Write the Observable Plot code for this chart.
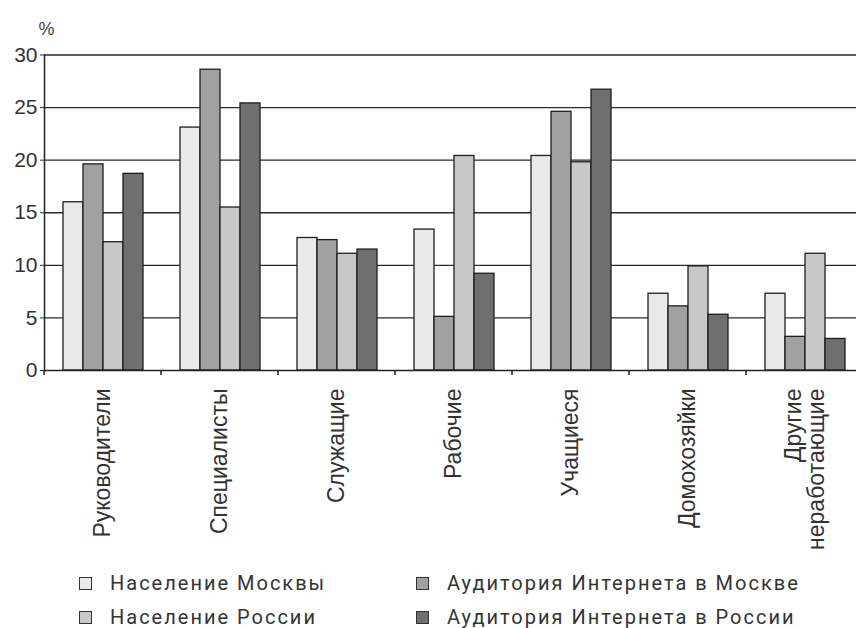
<!DOCTYPE html>
<html><head><meta charset="utf-8">
<script src="https://cdn.jsdelivr.net/npm/d3@7"></script>
<script src="https://cdn.jsdelivr.net/npm/@observablehq/plot@0.6"></script>
<style>
body{margin:0;background:#fff;}
#chart svg{display:block;}
#legend{position:relative;height:63px;font-family:Roboto,"Noto Sans",sans-serif;font-size:20px;color:#333;letter-spacing:2px;}
.item{position:absolute;display:flex;align-items:center;white-space:nowrap;}
.sw{width:11px;height:11px;border:1.5px solid #333;margin-right:18px;box-sizing:content-box;}
</style></head><body><div id="chart"></div><div id="legend"></div>
<script>
const categories = ["Руководители","Специалисты","Служащие","Рабочие","Учащиеся","Домохозяйки","Другие\nнеработающие"];
const series = ["Население Москвы","Аудитория Интернета в Москве","Население России","Аудитория Интернета в России"];
const moscowPop = [16.0,23.1,12.6,13.4,20.4,7.3,7.3];
const moscowNet = [19.6,28.6,12.4,5.1,24.6,6.1,3.2];
const russiaPop = [12.2,15.5,11.1,20.4,19.8,9.9,11.1];
const russiaNet = [18.7,25.4,11.5,9.2,26.7,5.3,3.0];
const yTicks = [0,5,10,15,20,25,30];
const colors = ["#e9e9e9","#a1a1a1","#c8c8c8","#6f6f6f"];

const seriesValues = [moscowPop, moscowNet, russiaPop, russiaNet];
const data = [];
categories.forEach((c,i)=>series.forEach((s,j)=>data.push({category:c, series:s, value:seriesValues[j][i]})));

const chart = Plot.plot({
  width: 856, height: 565,
  marginLeft: 44, marginRight: -7, marginTop: 54.5, marginBottom: 195,
  style: {fontFamily: "'Liberation Sans', Arial, sans-serif", color: "#333", background: "#fff"},
  fx: {domain: categories, paddingInner: 0, paddingOuter: 0, label: null},
  x: {domain: series, paddingInner: 0, paddingOuter: 0.8, axis: null},
  y: {domain: [0,30]},
  color: {domain: series, range: colors},
  marks: [
    Plot.ruleY(yTicks.filter(d=>d>0), {stroke:"#2a2a2a", strokeWidth:1.3}),
    Plot.barY(data, {fx:"category", x:"series", y:"value", fill:"series", stroke:"#1e1e1e", strokeWidth:1.3}),
    Plot.ruleY([0], {stroke:"#222", strokeWidth:1.5}),
    Plot.frame({anchor:"left", facetAnchor:"left", stroke:"#222", strokeWidth:1.5}),
    Plot.axisY({ticks: yTicks, tickSize: 4, tickPadding: 3, fontSize: 21, label: null, facetAnchor:"left"}),
    Plot.axisFx({anchor: "bottom", tickSize: 0, tickRotate: -90, tickPadding: 18, fontSize: 23, label: null}),
    Plot.text(["%"], {frameAnchor:"top-left", facetAnchor:"left", textAnchor:"middle", dx: 2, dy: -33, fontSize: 18, fill:"#444"})
  ]
});
document.getElementById("chart").appendChild(chart);

// category boundary ticks, from scales
const fx = chart.scale("fx"), ys = chart.scale("y");
const y0 = ys.apply(0);
const edges = categories.map(c => fx.apply(c));
edges.push(fx.apply(categories[categories.length-1]) + fx.bandwidth);
d3.select(chart).append("g").selectAll("line").data(edges).join("line")
  .attr("x1", d=>d).attr("x2", d=>d).attr("y1", y0).attr("y2", y0+5)
  .attr("stroke", "#222").attr("stroke-width", 1.5);

// legend
const legendPos = [[79,6],[416,6],[79,40],[416,40]];
const lg = d3.select("#legend");
series.forEach((s,k)=>{
  const it = lg.append("div").attr("class","item").style("left", legendPos[k][0]+"px").style("top", legendPos[k][1]+"px");
  it.append("div").attr("class","sw").style("background", colors[k]);
  it.append("span").text(s);
});
</script></body></html>
